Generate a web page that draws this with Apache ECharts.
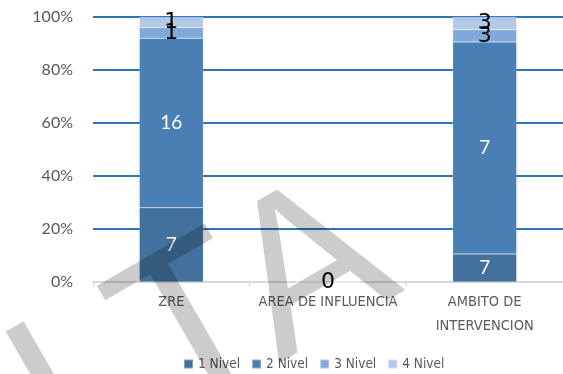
<!DOCTYPE html>
<html>
<head>
<meta charset="utf-8">
<script src="https://cdn.jsdelivr.net/npm/echarts@6/dist/echarts.min.js"></script>
<style>
  html, body { margin: 0; padding: 0; background: #fff; }
  #chart { width: 563px; height: 374px; }
</style>
</head>
<body>
<div id="chart"></div>
<script>
// categorias del eje x
var categories = ['ZRE', 'AREA DE INFLUENCIA', 'AMBITO DE\nINTERVENCION'];
var seriesNames = ['1 Nivel', '2 Nivel', '3 Nivel', '4 Nivel'];

var nivel1 = [28, 0, 10.6];
var nivel2 = [64, 0, 80];
var nivel3 = [4, 0, 4.6];
var nivel4 = [4, 0, 4.8];

// etiquetas que muestra el grafico sobre cada segmento
var labels1 = ['7', '', '7'];
var labels2 = ['16', '', '7'];
var labels3 = ['1', '', '3'];
var labels4 = ['1', '0', '3'];

var yTicks = [0, 20, 40, 60, 80, 100];

var colors = ['#41719c', '#4a7fb5', '#80a9da', '#b4c8e7'];
var narrow = '"DejaVu Sans Condensed", "Liberation Sans Narrow", "Roboto", sans-serif';

function makeSeries(name, data, labels, color, labelColor, labelFont, labelSize) {
  return {
    name: name,
    type: 'bar',
    stack: 'total',
    barWidth: 64,
    data: data,
    itemStyle: {
      color: color,
      borderColor: 'rgba(255,255,255,0.35)',
      borderWidth: 0.5
    },
    label: {
      show: true,
      position: 'inside',
      color: labelColor,
      fontFamily: labelFont,
      fontSize: labelSize,
      formatter: function (p) {
        return labels[p.dataIndex];
      }
    }
  };
}

var chart = echarts.init(document.getElementById('chart'));

var option = {
  animation: false,
  color: colors,
  grid: {
    left: 93,
    top: 17,
    bottom: 92,
    width: 484.5
  },
  legend: {
    data: seriesNames,
    left: 183,
    top: 357,
    padding: 0,
    itemWidth: 9,
    itemHeight: 9,
    itemGap: 11,
    icon: 'rect',
    textStyle: { color: '#595959', fontSize: 13.5, fontFamily: narrow }
  },
  xAxis: {
    type: 'category',
    data: categories,
    axisLine: { lineStyle: { color: '#d9d9d9', width: 1.5 } },
    axisTick: { show: true, length: 5, lineStyle: { color: '#d9d9d9' } },
    axisLabel: {
      interval: 0,
      color: '#595959',
      fontFamily: narrow,
      fontSize: 14.5,
      lineHeight: 24,
      margin: 8
    }
  },
  yAxis: {
    type: 'value',
    min: yTicks[0],
    max: yTicks[yTicks.length - 1],
    interval: 20,
    axisLine: { show: false },
    axisTick: { show: false },
    axisLabel: {
      formatter: '{value}%',
      color: '#595959',
      fontFamily: 'Lato',
      fontSize: 16,
      margin: 20
    },
    splitLine: {
      lineStyle: {
        color: ['#d9d9d9', '#2e75b6', '#2e75b6', '#2e75b6', '#2e75b6', '#2e75b6'],
        width: 2
      }
    }
  },
  series: [
    makeSeries(seriesNames[0], nivel1, labels1, colors[0], '#fff', 'Lato', 19),
    makeSeries(seriesNames[1], nivel2, labels2, colors[1], '#fff', 'Lato', 19),
    makeSeries(seriesNames[2], nivel3, labels3, colors[2], '#000', 'DejaVu Sans', 22),
    makeSeries(seriesNames[3], nivel4, labels4, colors[3], '#000', 'DejaVu Sans', 22)
  ],
  // marca de agua gris en diagonal
  graphic: {
    elements: [
      { text: 'I', x: 60, y: 405 },
      { text: 'T', x: 196, y: 333 },
      { text: 'A', x: 312, y: 274 }
    ].map(function (w) {
      return {
        type: 'text',
        x: w.x,
        y: w.y,
        rotation: Math.PI / 6,
        z: 100,
        silent: true,
        style: {
          text: w.text,
          font: '220px "Liberation Sans", Arial, sans-serif',
          fill: 'rgba(0,0,0,0.2)',
          align: 'center',
          verticalAlign: 'middle'
        }
      };
    })
  }
};

chart.setOption(option);
</script>
</body>
</html>
